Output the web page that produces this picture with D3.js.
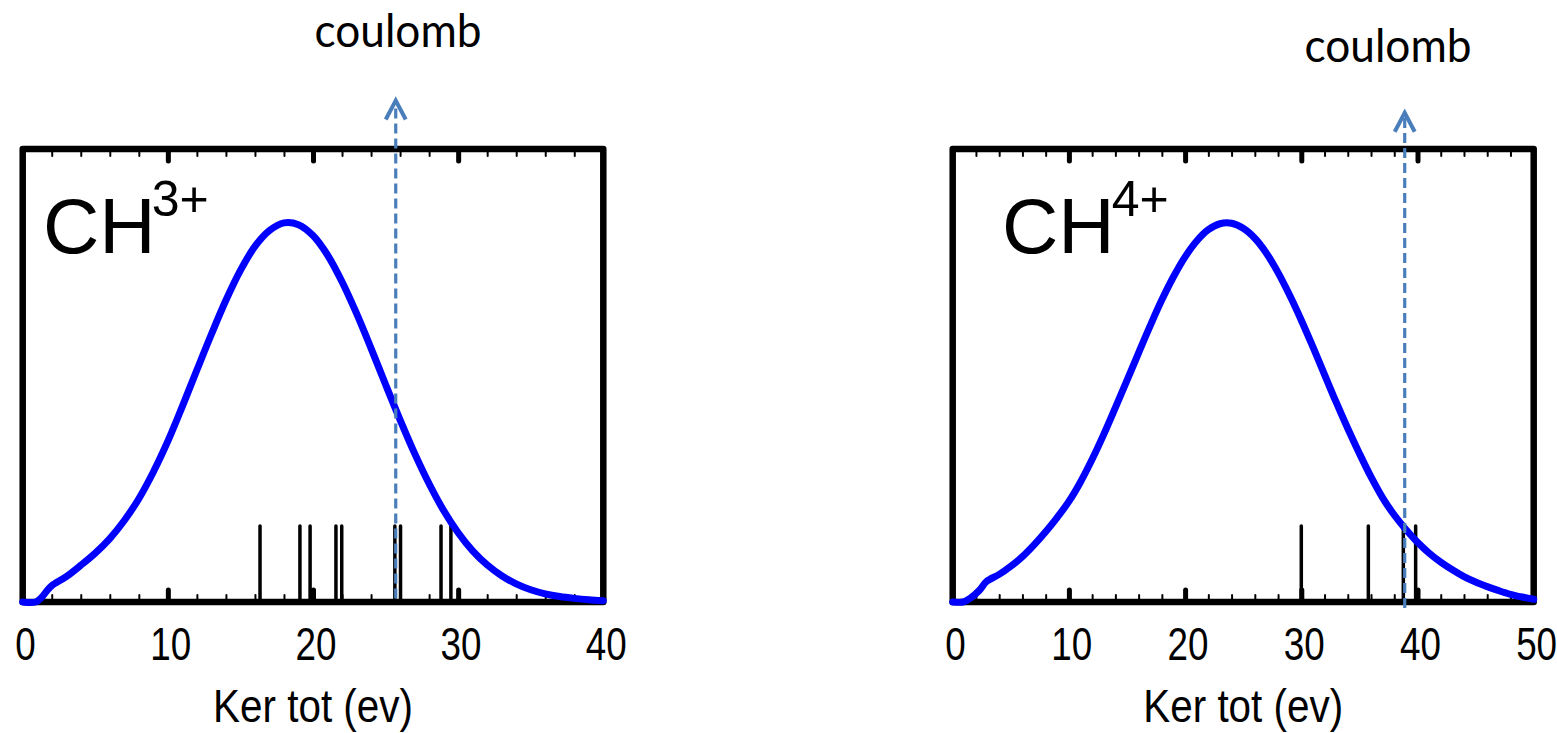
<!DOCTYPE html>
<html>
<head>
<meta charset="utf-8">
<script src="https://cdn.jsdelivr.net/npm/d3@7"></script>
<style>
  body { margin: 0; background: #fff; }
  svg { display: block; }
</style>
</head>
<body>
<div id="chart"></div>
<script>
// ---- data ----
const ch3Curve = [
  [0, 0], [0.9, 0.0], [1.3, 0.01], [1.7, 0.026], [2.0, 0.036], [3, 0.056],
  [4, 0.081], [5, 0.108], [6, 0.14], [7, 0.18], [8, 0.228], [9, 0.287], [10, 0.355],
  [11, 0.432], [12, 0.512], [13, 0.591], [14, 0.666], [15, 0.732], [16, 0.785],
  [17, 0.82], [18, 0.837], [19, 0.833], [20, 0.809], [21, 0.766], [22, 0.707],
  [23, 0.637], [24, 0.56], [25, 0.48], [26, 0.402], [27, 0.328], [28, 0.261],
  [29, 0.202], [30, 0.153], [31, 0.113], [32, 0.082], [33, 0.058], [34, 0.04],
  [35, 0.027], [36, 0.018], [37, 0.012], [38, 0.008], [39, 0.005], [40, 0.003]
];
const ch3Sticks = [16.35, 19.1, 19.8, 21.58, 21.98, 25.64, 26.03, 28.82, 29.5];
const ch3Coulomb = 25.7;

const ch4Curve = [
  [0, 0], [0.9, 0.0], [1.5, 0.008], [2.3, 0.026], [2.9, 0.045], [4, 0.061], [5, 0.079],
  [6, 0.1], [7, 0.126], [8, 0.155], [9, 0.187], [10, 0.222], [11, 0.265], [12, 0.315],
  [13, 0.37], [14, 0.429], [15, 0.489], [16, 0.55], [17, 0.61], [18, 0.667],
  [19, 0.718], [20, 0.762], [21, 0.797], [22, 0.822], [23, 0.835], [24, 0.836],
  [25, 0.825], [26, 0.803], [27, 0.77], [28, 0.727], [29, 0.677], [30, 0.622],
  [31, 0.563], [32, 0.502], [33, 0.441], [34, 0.383], [35, 0.328], [36, 0.276],
  [37, 0.23], [38, 0.192], [39, 0.16], [40, 0.132], [41, 0.108], [42, 0.088],
  [43, 0.071], [44, 0.056], [45, 0.044], [46, 0.034], [47, 0.025], [48, 0.017],
  [49, 0.011], [50, 0.006]
];
const ch4Sticks = [30.0, 35.77, 38.78, 39.84];
const ch4Coulomb = 38.9;

const stickHeight = 0.168;
const xTicks3 = [0, 10, 20, 30, 40];
const xTicks4 = [0, 10, 20, 30, 40, 50];
const xLabel = "Ker tot (ev)";
const arrowLabel = "coulomb";

const panels = [
  { ion: "CH", charge: "3+", curve: ch3Curve, sticks: ch3Sticks, coulomb: ch3Coulomb, ticks: xTicks3,
    left: 22.7, right: 603.3, tip: 1.107, base: 0.008, ionX: 43, ionDx: -4, labelX: 398, labelY: 47 },
  { ion: "CH", charge: "4+", curve: ch4Curve, sticks: ch4Sticks, coulomb: ch4Coulomb, ticks: xTicks4,
    left: 952.7, right: 1533.7, tip: 1.08, base: -0.013, ionX: 1002, ionDx: -3, labelX: 1388, labelY: 62 }
];

const W = 1557, H = 733;
const plotTop = 149, plotBottom = 602;
const arrowColor = "#4a7ebb";
const tickFont = "'Liberation Sans', Arial, sans-serif";
const narrow = 0.8; // the reference uses a narrow sans, squeeze Liberation Sans

const svg = d3.select("#chart").append("svg").attr("width", W).attr("height", H);

const yScale = d3.scaleLinear().domain([0, 1]).range([plotBottom, plotTop]);

panels.forEach(p => {
  const xmax = p.ticks[p.ticks.length - 1];
  const xScale = d3.scaleLinear().domain([0, xmax]).range([p.left, p.right]);
  const g = svg.append("g");

  const majors = p.ticks.filter(t => t > 0 && t < xmax);
  const minors = d3.range(2, xmax, 2).filter(t => t % 10 !== 0);

  // ticks, bottom and top, pointing inward
  const tickSets = [
    { vals: majors, len: 12, w: 5 },
    { vals: minors, len: 7, w: 2 }
  ];
  tickSets.forEach(ts => {
    const ab = g.append("g").attr("transform", `translate(0,${plotBottom})`)
      .call(d3.axisBottom(xScale).tickValues(ts.vals).tickSize(-ts.len).tickFormat(""));
    const at = g.append("g").attr("transform", `translate(0,${plotTop})`)
      .call(d3.axisTop(xScale).tickValues(ts.vals).tickSize(-ts.len).tickFormat(""));
    [ab, at].forEach(a => {
      a.select(".domain").remove();
      a.selectAll("line").attr("stroke", "#000").attr("stroke-width", ts.w).attr("stroke-linecap", "round");
    });
  });

  // frame
  g.append("rect")
    .attr("x", xScale(0)).attr("y", yScale(1))
    .attr("width", xScale(xmax) - xScale(0)).attr("height", yScale(0) - yScale(1))
    .attr("fill", "none").attr("stroke", "#000").attr("stroke-width", 6.5)
    .attr("stroke-linejoin", "round");

  // tick labels
  const labels = g.append("g").attr("transform", `translate(0,${plotBottom})`)
    .call(d3.axisBottom(xScale).tickValues(p.ticks).tickSize(0).tickPadding(25).tickFormat(d3.format("d")));
  labels.select(".domain").remove();
  labels.selectAll("text").attr("font-family", tickFont).attr("font-size", 46).attr("fill", "#000")
    .attr("dx", 3).attr("transform", `scale(${narrow},1)`);

  // axis title
  g.append("text")
    .attr("transform", `translate(${(p.left + p.right) / 2},722) scale(${narrow + 0.06},1)`)
    .attr("text-anchor", "middle")
    .attr("font-family", tickFont).attr("font-size", 47)
    .text(xLabel);

  // sticks
  g.selectAll(".stick").data(p.sticks).join("line")
    .attr("class", "stick")
    .attr("x1", d => xScale(d)).attr("x2", d => xScale(d))
    .attr("y1", yScale(0)).attr("y2", yScale(stickHeight))
    .attr("stroke", "#000").attr("stroke-width", 3.5).attr("stroke-linecap", "round");

  // curve
  const line = d3.line().x(d => xScale(d[0])).y(d => yScale(d[1])).curve(d3.curveCatmullRom.alpha(0.5));
  g.append("path").datum(p.curve)
    .attr("d", line)
    .attr("fill", "none").attr("stroke", "#0000ff").attr("stroke-width", 7)
    .attr("stroke-linecap", "round").attr("stroke-linejoin", "round");

  // coulomb arrow
  const ax = xScale(p.coulomb), ty = yScale(p.tip);
  g.append("line")
    .attr("x1", ax).attr("x2", ax)
    .attr("y1", yScale(p.base)).attr("y2", ty + 2)
    .attr("stroke", arrowColor).attr("stroke-width", 3.2)
    .attr("stroke-dasharray", "10,5");
  g.append("path")
    .attr("d", `M${ax - 10},${ty + 19}L${ax},${ty}L${ax + 10},${ty + 19}`)
    .attr("fill", "none").attr("stroke", arrowColor).attr("stroke-width", 4)
    .attr("stroke-linejoin", "miter");

  g.append("text")
    .attr("x", p.labelX).attr("y", p.labelY)
    .attr("text-anchor", "middle")
    .attr("font-family", "Lato, 'Open Sans', sans-serif").attr("font-size", 47)
    .attr("textLength", 167).attr("lengthAdjust", "spacingAndGlyphs")
    .text(arrowLabel);

  // ion label
  const ion = g.append("text")
    .attr("x", p.ionX).attr("y", 253)
    .attr("font-family", "'Liberation Sans', Arial, sans-serif").attr("font-size", 78)
    .text(p.ion);
  ion.append("tspan").attr("dx", p.ionDx).attr("dy", -37).attr("font-size", 50).text(p.charge);
});
</script>
</body>
</html>
